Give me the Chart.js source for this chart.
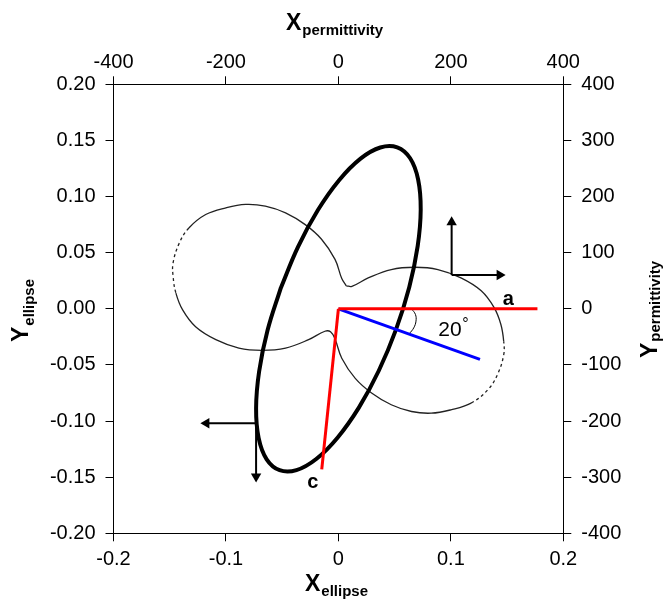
<!DOCTYPE html>
<html>
<head>
<meta charset="utf-8">
<script src="https://cdn.jsdelivr.net/npm/chart.js@4.4.1/dist/chart.umd.min.js"></script>
<style>
  body { margin: 0; background: #fff; }
  #wrap { width: 666px; height: 600px; }
</style>
</head>
<body>
<div id="wrap"><canvas id="chart" width="666" height="600"></canvas></div>
<script>
// ellipse (thick loop), ellipse units
const ellipseX = [-0.0512, -0.0630, -0.0705, -0.0732, -0.0709, -0.0638, -0.0523, -0.0373, -0.0197, -0.0008, 0.0182, 0.0359,
    0.0512, 0.0630, 0.0705, 0.0732, 0.0709, 0.0638, 0.0523, 0.0373, 0.0197, 0.0008, -0.0182, -0.0359, -0.0512];
const ellipseY = [0.0186, -0.0192, -0.0558, -0.0885, -0.1152, -0.1341, -0.1438, -0.1437, -0.1338, -0.1148, -0.0880, -0.0552,
    -0.0186, 0.0192, 0.0558, 0.0885, 0.1152, 0.1341, 0.1438, 0.1437, 0.1338, 0.1148, 0.0880, 0.0552, 0.0186];

// permittivity curve (two lobes), permittivity units
const permX = [14, 6, -6, -30, -59, -94, -130, -165, -200, -236, -266, -283, -294, -294, -289, -277, -254, -218, -177, -136, -94, -53, -24, -14,
    -6, 6, 30, 59, 94, 130, 165, 200, 236, 266, 283, 294, 294, 289, 277, 254, 218, 177, 136, 94, 53, 24, 14];
const permY = [41, 54, 88, 124, 150, 171, 183, 186, 180, 168, 144, 117, 82, 58, 28, -2, -32, -55, -70, -74, -70, -55, -40, -41,
    -54, -88, -124, -150, -171, -183, -186, -180, -168, -144, -117, -82, -58, -28, 2, 32, 55, 70, 74, 70, 55, 40, 41];
const permDashed = [[10, 13], [32, 35]];

// axis lines a, c and the rotated one
const lineAX = [0, 0.177], lineAY = [0, 0];
const lineCX = [0, -0.0148], lineCY = [0, -0.143];
const lineRotX = [0, 0.1259], lineRotY = [0, -0.045];
const arcX = [0.065, 0.0685, 0.069, 0.067, 0.063];
const arcY = [0, -0.005, -0.011, -0.017, -0.0223];

// arrows: [base, head]
const arrowUpX = [0.1007, 0.1007], arrowUpY = [0.0301, 0.0771];
const arrowRightX = [0.1007, 0.1434], arrowRightY = [0.0301, 0.0301];
const arrowLeftX = [-0.0732, -0.1174], arrowLeftY = [-0.102, -0.102];
const arrowDownX = [-0.0732, -0.0732], arrowDownY = [-0.102, -0.1494];

// ticks
const xTicks = [-0.2, -0.1, 0, 0.1, 0.2];
const xTickLabels = ['-0.2', '-0.1', '0', '0.1', '0.2'];
const yTicks = [-0.2, -0.15, -0.1, -0.05, 0, 0.05, 0.1, 0.15, 0.2];
const yTickLabels = ['-0.20', '-0.15', '-0.10', '-0.05', '0.00', '0.05', '0.10', '0.15', '0.20'];
const x2Ticks = [-400, -200, 0, 200, 400];
const y2Ticks = [-400, -300, -200, -100, 0, 100, 200, 300, 400];

// text labels in the plot
const noteText = ['a', 'c', '20', '\u00b0'];
const noteX = [0.151, -0.0228, 0.0992, 0.113];
const noteY = [0.0034, -0.1599, -0.0243, -0.018];

const FONT = "'Liberation Sans', Arial, sans-serif";
const noteFonts = ['bold 20px ' + FONT, 'bold 20px ' + FONT, '21px ' + FONT, '16px ' + FONT];

const pts = (xs, ys) => xs.map((x, i) => ({ x: x, y: ys[i] }));

function simpleLine(xs, ys, color, width, order) {
    return {
        data: pts(xs, ys),
        showLine: true,
        borderColor: color,
        borderWidth: width,
        pointRadius: 0,
        order: order
    };
}

function arrow(xs, ys, rot) {
    return {
        data: pts(xs, ys),
        showLine: true,
        borderColor: '#000',
        borderWidth: 2,
        pointRadius: [0, 6],
        pointStyle: 'triangle',
        pointRotation: rot,
        pointBackgroundColor: '#000',
        pointBorderColor: '#000',
        pointBorderWidth: 0,
        order: 0
    };
}

function isDashed(i) {
    return permDashed.some(r => i >= r[0] && i <= r[1]);
}

function makeScale(position, min, max, tickValues, labels, size, padding) {
    return {
        type: 'linear',
        position: position,
        min: min,
        max: max,
        afterBuildTicks: s => { s.ticks = tickValues.map(v => ({ value: v })); },
        afterFit: s => {
            if (position === 'left' || position === 'right') s.width = size;
            else s.height = size;
        },
        ticks: {
            callback: (v, i) => labels[i],
            color: '#000',
            padding: padding,
            maxRotation: 0,
            font: { family: FONT, size: 20 }
        },
        grid: { drawOnChartArea: false, drawTicks: true, tickLength: 8, color: '#000', lineWidth: 1 },
        border: { color: '#000', width: 1 }
    };
}

function drawTitle(ctx, main, sub, x, y, rotated, subShift) {
    ctx.save();
    ctx.translate(x, y);
    if (rotated) ctx.rotate(-Math.PI / 2);
    ctx.textAlign = 'left';
    ctx.textBaseline = 'alphabetic';
    ctx.font = 'bold 23px ' + FONT;
    ctx.fillText(main, 0, 0);
    const w = ctx.measureText(main).width;
    ctx.font = 'bold 15px ' + FONT;
    ctx.fillText(sub, w + 1, subShift);
    ctx.restore();
}

const textPlugin = {
    id: 'texts',
    afterDraw(chart) {
        const ctx = chart.ctx;
        const sx = chart.scales.x, sy = chart.scales.y;
        ctx.save();
        ctx.fillStyle = '#000';
        ctx.textAlign = 'center';
        ctx.textBaseline = 'alphabetic';
        noteText.forEach((t, i) => {
            ctx.font = noteFonts[i];
            ctx.fillText(t, sx.getPixelForValue(noteX[i]), sy.getPixelForValue(noteY[i]));
        });
        ctx.restore();

        drawTitle(ctx, 'X', 'permittivity', 286, 30, false, 5);
        drawTitle(ctx, 'X', 'ellipse', 305, 591, false, 5);
        drawTitle(ctx, 'Y', 'ellipse', 28, 342, true, 6);
        drawTitle(ctx, 'Y', 'permittivity', 656.5, 358, true, 3.5);
    }
};

const datasets = [
    simpleLine(lineAX, lineAY, '#ff0000', 3, 1),
    simpleLine(lineCX, lineCY, '#ff0000', 3, 1),
    simpleLine(lineRotX, lineRotY, '#0000ff', 3, 1),
    Object.assign(simpleLine(arcX, arcY, '#000', 1, 1), { tension: 0.4 }),
    arrow(arrowUpX, arrowUpY, 0),
    arrow(arrowRightX, arrowRightY, 90),
    arrow(arrowLeftX, arrowLeftY, 270),
    arrow(arrowDownX, arrowDownY, 180),
    {
        data: pts(ellipseX, ellipseY),
        showLine: true,
        borderColor: '#000',
        borderWidth: 4,
        pointRadius: 0,
        tension: 0.4,
        order: 2
    },
    {
        data: pts(permX, permY),
        xAxisID: 'x2',
        yAxisID: 'y2',
        showLine: true,
        borderColor: '#222',
        borderWidth: 1.3,
        pointRadius: 0,
        tension: 0.4,
        order: 3,
        segment: {
            borderDash: c => isDashed(c.p0DataIndex) ? [3, 3] : undefined
        }
    }
];

new Chart(document.getElementById('chart'), {
    type: 'scatter',
    data: { datasets: datasets },
    options: {
        responsive: false,
        animation: false,
        layout: { padding: 0 },
        plugins: {
            legend: { display: false },
            tooltip: { enabled: false }
        },
        scales: {
            x: makeScale('bottom', -0.2, 0.2, xTicks, xTickLabels, 66.7, 6),
            x2: makeScale('top', -400, 400, x2Ticks, x2Ticks.map(String), 84.3, 2),
            y: makeScale('left', -0.2, 0.2, yTicks, yTickLabels, 113.5, 10),
            y2: makeScale('right', -400, 400, y2Ticks, y2Ticks.map(String), 102.7, 10)
        }
    },
    plugins: [textPlugin]
});
</script>
</body>
</html>
